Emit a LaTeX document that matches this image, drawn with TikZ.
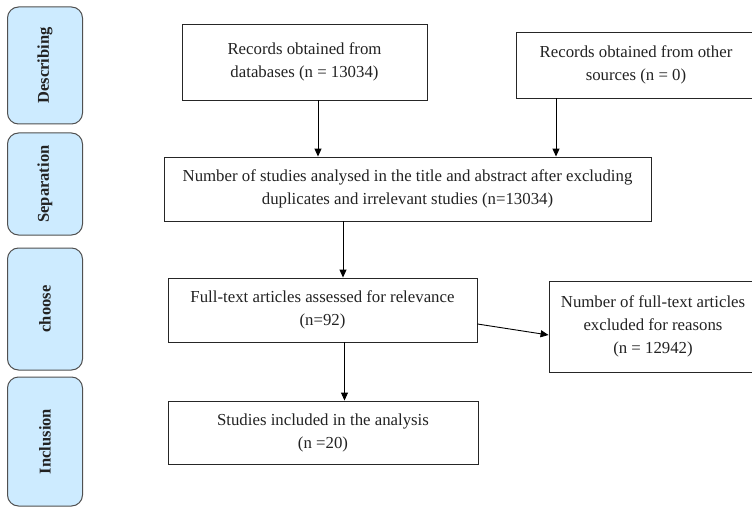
\documentclass[tikz,border=0pt]{standalone}
\usepackage{fontspec}
\setmainfont{Liberation Serif}
\usetikzlibrary{arrows.meta}
\definecolor{sidefill}{HTML}{CDEBFF}
\definecolor{sidedraw}{HTML}{505050}
\definecolor{txt}{HTML}{222222}
\tikzset{
  sidebox/.style={draw=sidedraw, line width=1pt, fill=sidefill, rounded corners=11pt,
    minimum width=75pt, inner sep=0pt, font=\fontsize{16.5}{19}\selectfont\bfseries, text=txt},
  mainbox/.style={draw=black!85, line width=0.9pt, align=center, inner sep=0pt,
    font=\fontsize{16.8}{23}\selectfont, text=txt},
  arr/.style={line width=0.9pt, -{Triangle[length=8pt,width=7pt]}}
}
\begin{document}
\begin{tikzpicture}[x=1pt,y=-1pt]
\useasboundingbox (0,0) rectangle (752,508);
% side boxes
\node[sidebox, minimum height=117pt] (sd) at (45,65.5) {\rotatebox{90}{Describing}};
\node[sidebox, minimum height=102pt] (ss) at (45,184) {\rotatebox{90}{Separation}};
\node[sidebox, minimum height=122pt] (sc) at (45,309) {\rotatebox{90}{choose}};
\node[sidebox, minimum height=129pt] (si) at (45,441.5) {\rotatebox{90}{Inclusion}};
% main boxes
\node[mainbox, minimum width=245pt, minimum height=76pt] (b1) at (304.5,62)
  {Records obtained from\\databases (n = 13034)};
\node[mainbox, minimum width=240pt, minimum height=66pt] (b2) at (636,65)
  {Records obtained from other\\sources (n = 0)};
\node[mainbox, minimum width=487pt, minimum height=64pt] (b3) at (407.5,189)
  {Number of studies analysed in the title and abstract after excluding\\duplicates and irrelevant studies (n=13034)};
\node[mainbox, minimum width=309pt, minimum height=64pt] (b4) at (322.5,310)
  {Full-text articles assessed for relevance\\(n=92)};
\node[mainbox, minimum width=208pt, minimum height=91pt] (b5) at (653,326.5)
  {Number of full-text articles\\excluded for reasons\\(n = 12942)};
\node[mainbox, minimum width=310pt, minimum height=63pt] (b6) at (323,432.5)
  {Studies included in the analysis\\(n =20)};
% connectors
\draw[arr] ([xshift=13.5pt]b1.south) -- ([xshift=13.5pt]b1.south |- b3.north);
\draw[arr] ([xshift=-80pt]b2.south) -- ([xshift=-80pt]b2.south |- b3.north);
\draw[arr] ([xshift=-64.5pt]b3.south) -- ([xshift=-64.5pt]b3.south |- b4.north);
\draw[arr] ([yshift=-14pt]b4.east) -- ([yshift=-8.5pt]b5.west);
\draw[arr] ([xshift=22pt]b4.south) -- ([xshift=22pt]b4.south |- b6.north);
\end{tikzpicture}
\end{document}
